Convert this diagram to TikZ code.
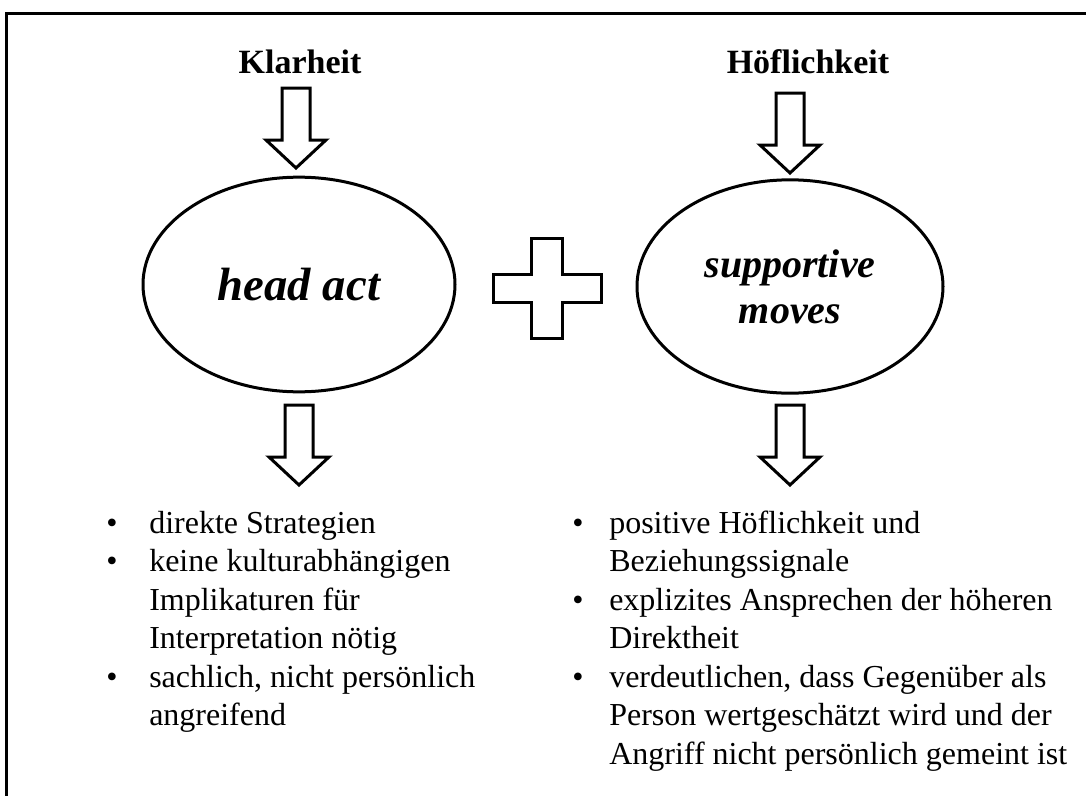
\documentclass[tikz,border=0pt]{standalone}
\usepackage{fontspec}
\setmainfont{Liberation Serif}
\usetikzlibrary{shapes.geometric}
\tikzset{
  outline/.style={line width=2.25pt, line join=miter},
  titletext/.style={font=\fontsize{25.5}{30}\selectfont\bfseries, inner sep=0pt, anchor=base},
  bubble/.style={ellipse, outline, draw, inner sep=0pt, align=center},
  listline/.style={font=\fontsize{24}{26}\selectfont, inner sep=0pt, anchor=base west},
  bulletmark/.style={font=\fontsize{24}{26}\selectfont, inner sep=0pt, anchor=base},
  blockarrow/.pic={\draw[outline, fill=white] (-14,0) -- (14,0) -- (14,52) -- (30,52) -- (0,80) -- (-30,52) -- (-14,52) -- cycle;}
}
\begin{document}
\begin{tikzpicture}[x=0.75pt,y=-0.75pt]
\useasboundingbox (0,0) rectangle (1086,796);
\draw[outline] (6,796) -- (6,13) -- (1086,13);

% titles
\node[titletext] (klar) at (300,73) {Klarheit};
\node[titletext] (hoef) at (808,73) {Höflichkeit};

% top arrows
\pic at (296,88) {blockarrow};
\pic at (790,93) {blockarrow};

% ellipses
\node[bubble, minimum width=234pt, minimum height=161pt,
      font=\fontsize{35}{40}\selectfont\bfseries\itshape] (head) at (299,284.5) {head act};
\node[bubble, minimum width=229.5pt, minimum height=160pt,
      font=\fontsize{30}{34.5}\selectfont\bfseries\itshape] (supp) at (790,286.5) {supportive\\moves};

% plus sign
\draw[outline] (531,238) -- (562,238) -- (562,274) -- (601,274) -- (601,302) -- (562,302)
  -- (562,338) -- (531,338) -- (531,302) -- (493,302) -- (493,274) -- (531,274) -- cycle;

% bottom arrows
\pic at (299,405) {blockarrow};
\pic at (790,405) {blockarrow};

% left list
\node[bulletmark] (bl1) at (112,533) {\textbullet};
\node[bulletmark] (bl2) at (112,571.5) {\textbullet};
\node[bulletmark] (bl3) at (112,687) {\textbullet};
\node[listline] (l1) at (149,533) {direkte Strategien};
\node[listline] (l2) at (149,571.5) {keine kulturabhängigen};
\node[listline] (l3) at (149,610) {Implikaturen für};
\node[listline] (l4) at (149,648.5) {Interpretation nötig};
\node[listline] (l5) at (149,687) {sachlich, nicht persönlich};
\node[listline] (l6) at (149,725.5) {angreifend};

% right list
\node[bulletmark] (br1) at (578,533) {\textbullet};
\node[bulletmark] (br2) at (578,610) {\textbullet};
\node[bulletmark] (br3) at (578,687) {\textbullet};
\node[listline] (r1) at (609,533) {positive Höflichkeit und};
\node[listline] (r2) at (609,571.5) {Beziehungssignale};
\node[listline] (r3) at (609,610) {explizites Ansprechen der höheren};
\node[listline] (r4) at (609,648.5) {Direktheit};
\node[listline] (r5) at (609,687) {verdeutlichen, dass Gegenüber als};
\node[listline] (r6) at (609,725.5) {Person wertgeschätzt wird und der};
\node[listline] (r7) at (609,764) {Angriff nicht persönlich gemeint ist};
\end{tikzpicture}
\end{document}
